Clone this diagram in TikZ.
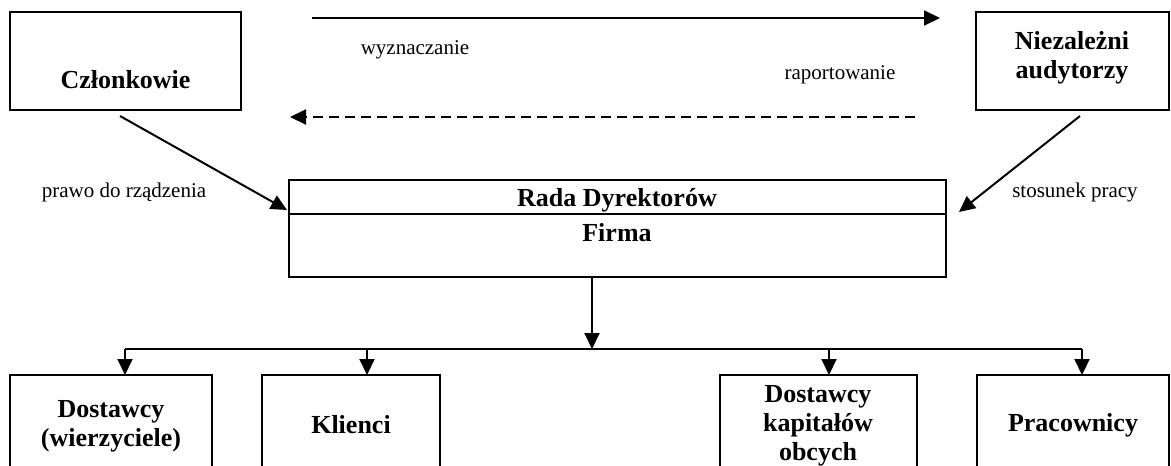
\documentclass[tikz,border=0pt]{standalone}
\usepackage{fontspec}
\setmainfont{Liberation Serif}
\usetikzlibrary{arrows.meta,calc}
\begin{document}
\begin{tikzpicture}[x=1pt,y=-1pt,
  frame/.style={draw,line width=2.8pt,inner sep=0pt,outer sep=0pt,anchor=north west},
  title/.style={font=\fontsize{26}{29}\selectfont\bfseries,align=center,inner sep=0pt},
  note/.style={font=\fontsize{21}{24}\selectfont,inner sep=0pt},
  link/.style={line width=2pt,-{Triangle[length=16pt,width=15pt]}},
  wire/.style={line width=2pt},
]
\useasboundingbox (0,0) rectangle (1171,466);
\clip (0,0) rectangle (1171,466);

% top row of boxes
\node[frame,minimum width=231pt,minimum height=98pt] (members) at (10,12) {};
\node[title] (membersT) at (125.5,80) {Członkowie};
\node[frame,minimum width=193pt,minimum height=98pt] (auditors) at (976,12) {};
\node[title] (auditorsT) at (1072,58) {Niezależni\\audytorzy};

% board / firm
\node[frame,minimum width=657pt,minimum height=97pt] (board) at (289,180) {};
\draw[line width=2.8pt] ($(board.north west)+(0,34)$) -- ($(board.north east)+(0,34)$);
\node[title] (boardT) at (617,200) {Rada Dyrektorów};
\node[title] (firmT) at (617,233) {Firma};

% appointing and reporting
\coordinate (appointS) at (312,18);
\coordinate (appointE) at (940,18);
\draw[link] (appointS) -- (appointE);
\node[note] (appointL) at (415,50) {wyznaczanie};
\node[note] (reportL) at (840,75) {raportowanie};
\coordinate (reportS) at (915,117);
\coordinate (reportE) at (290,117);
\draw[link,dash pattern=on 10pt off 6pt] (reportS) -- (reportE);

% governance and employment
\coordinate (govS) at (120,116);
\coordinate (govE) at (287,210);
\draw[link] (govS) -- (govE);
\node[note] (govL) at (124,192) {prawo do rządzenia};
\coordinate (empS) at (1080,116);
\coordinate (empE) at (959,212);
\draw[link] (empS) -- (empE);
\node[note] (empL) at (1075,192) {stosunek pracy};

% stakeholder boxes
\node[frame,minimum width=202pt,minimum height=130pt] (suppliers) at (10,375) {};
\node[title] (suppliersT) at (111,426) {Dostawcy\\(wierzyciele)};
\node[frame,minimum width=178pt,minimum height=130pt] (clients) at (262,375) {};
\node[title] (clientsT) at (351,425) {Klienci};
\node[frame,minimum width=197pt,minimum height=130pt] (lenders) at (720,375) {};
\node[title] (lendersT) at (818,426) {Dostawcy\\kapitałów\\obcych};
\node[frame,minimum width=192pt,minimum height=130pt] (staff) at (977,375) {};
\node[title] (staffT) at (1073,425) {Pracownicy};

% distribution bus
\coordinate (busTop) at (592,277);
\coordinate (bus) at (592,349);
\draw[link] (busTop) -- (bus);
\coordinate (b1) at (125,349);
\coordinate (b2) at (367,349);
\coordinate (b3) at (829,349);
\coordinate (b4) at (1082,349);
\draw[wire] (b1) -- (b4);
\draw[link] (b1) -- (b1 |- suppliers.north);
\draw[link] (b2) -- (b2 |- clients.north);
\draw[link] (b3) -- (b3 |- lenders.north);
\draw[link] (b4) -- (b4 |- staff.north);
\end{tikzpicture}
\end{document}
